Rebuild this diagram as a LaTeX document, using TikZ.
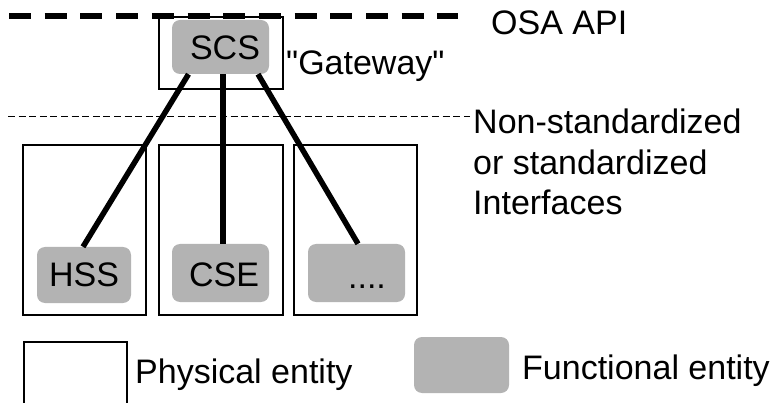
\documentclass[tikz,border=0pt]{standalone}
\usepackage{fontspec}
\setmainfont{Liberation Sans}[Ligatures=TeXOff]
\usetikzlibrary{calc}
\definecolor{fegray}{RGB}{179,179,179}
\tikzset{
  phys/.style={draw=black, line width=1.1pt, rectangle, inner sep=0pt},
  func/.style={fill=fegray, rounded corners=8pt, rectangle, inner sep=0pt},
  lbl/.style={inner sep=0pt, font=\fontsize{34}{40}\selectfont},
  conn/.style={line width=5.5pt, black},
  apiline/.style={line width=6pt, dash pattern=on 22pt off 13.7pt},
  ifline/.style={line width=1pt, dash pattern=on 7pt off 3.6pt},
}
\begin{document}
\begin{tikzpicture}[x=1pt, y=-1pt]
\useasboundingbox (0,0) rectangle (776,403);
\clip (0,0) rectangle (776,403);
% API line
\coordinate (apiL) at (9,16);
\coordinate (apiR) at (458,16);
\draw[apiline] (apiL) -- (apiR);
\node[lbl, anchor=base west] (osa) at (491,35) {OSA API};
% gateway
\node[phys, minimum width=124pt, minimum height=72pt] (gw) at (221,53) {};
\node[func, minimum width=97pt, minimum height=54pt] (scs) at (220.5,47) {};
\node[lbl, anchor=base] (scst) at (225,60) {SCS};
\node[lbl, anchor=base west] (gwt) at (286,75) {"Gateway"};
% interface line
\coordinate (ifL) at (8,117);
\coordinate (ifR) at (470,117);
\draw[ifline] (ifL) -- (ifR);
\node[lbl, anchor=base west] (if1) at (473,134) {Non-standardized};
\node[lbl, anchor=base west] (if2) at (473,175) {or standardized};
\node[lbl, anchor=base west] (if3) at (473,215) {Interfaces};
% lower physical entities
\node[phys, minimum width=123pt, minimum height=170pt] (p1) at (84.5,230) {};
\node[phys, minimum width=124pt, minimum height=170pt] (p2) at (221,230) {};
\node[phys, minimum width=123pt, minimum height=170pt] (p3) at (355.5,230) {};
% functional entities
\node[func, minimum width=94pt, minimum height=56pt] (hss) at (84,275) {};
\node[lbl, anchor=base] (hsst) at (84,287) {HSS};
\node[func, minimum width=97pt, minimum height=58pt] (cse) at (220.5,273) {};
\node[lbl, anchor=base] (cset) at (224,287) {CSE};
\node[func, minimum width=97pt, minimum height=58pt] (dots) at (356.5,273) {};
\node[lbl, anchor=base] (dotst) at (367,288) {....};
% connectors
\draw[conn] ([xshift=-32pt]scs.south) -- ([xshift=-1pt]hss.north);
\draw[conn] ([xshift=2.5pt]scs.south) -- ([xshift=2.5pt]cse.north);
\draw[conn] ([xshift=37.5pt]scs.south) -- ([xshift=1.5pt]dots.north);
% legend
\node[phys, minimum width=103pt, minimum height=100pt] (lp) at (75.5,392) {};
\node[lbl, anchor=base west] (lpt) at (135,383) {Physical entity};
\node[func, minimum width=95pt, minimum height=56pt] (lf) at (461.5,365) {};
\node[lbl, anchor=base west] (lft) at (522,379) {Functional entity};
\end{tikzpicture}
\end{document}
